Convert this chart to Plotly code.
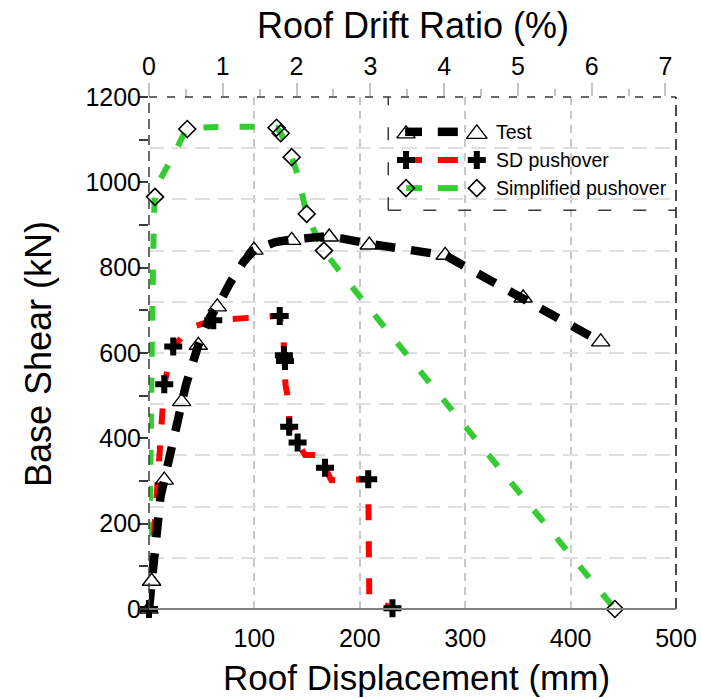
import plotly.graph_objects as go

# ---------------- data ----------------
STORY_H_MM = 7000.0  # roof height used for drift ratio (%) = disp / H * 100

# Test (black)
test_line_x = [0, 2.5, 7, 11, 14.5, 21, 27, 31, 35, 46.8, 58, 64.8, 77, 90, 99.6, 120, 135.4, 171, 209, 281, 355, 428.6]
test_line_y = [0, 65, 185, 265, 302, 375, 440, 486, 525, 618, 685, 708, 765, 815, 841, 860, 866, 874, 856, 829, 729, 626]
test_mark_x = [0, 2.5, 14.5, 31, 46.8, 64.8, 99.6, 135.4, 171, 209, 281, 355, 428.6]
test_mark_y = [0, 65, 302, 486, 618, 708, 841, 864, 872, 853, 829, 729, 626]

# SD pushover (red)
sd_line_x = [0, 14.5, 23, 40, 61, 124, 127.5, 128, 129, 129.5, 133, 133, 141, 148, 163, 167, 173, 208, 209, 231]
sd_line_y = [0, 527, 615, 660, 677, 687, 640, 595, 581, 525, 480, 427, 390, 361, 361, 331, 302, 304, 25, 2]
sd_mark_x = [0, 14.5, 23, 61, 124, 128, 129, 133, 141, 167, 208, 231]
sd_mark_y = [0, 527, 615, 677, 687, 595, 581, 427, 390, 331, 304, 2]

# Simplified pushover (green)
simp_line_x = [0, 5.7, 11, 18, 27, 36.3, 121, 125, 135.4, 142, 149.6, 166, 442]
simp_line_y = [0, 966, 1008, 1040, 1082, 1125, 1128, 1115, 1059, 1010, 926, 840, 0]
simp_mark_x = [5.7, 36.3, 121, 125, 135.4, 149.6, 166, 442]
simp_mark_y = [966, 1125, 1128, 1115, 1059, 926, 840, 0]

x_ticks = [100, 200, 300, 400, 500]
y_ticks = [0, 200, 400, 600, 800, 1000, 1200]
drift_ticks = [0, 1, 2, 3, 4, 5, 6, 7]
y_grid = [120, 240, 360, 480, 600, 720, 840, 960, 1080, 1200]

series_names = ["Test", "SD pushover", "Simplified pushover"]

# ---------------- styles ----------------
FONT = "Liberation Sans, Arial, sans-serif"
BLACK = "#000000"
RED = "#ff0000"
GREEN = "#33cc33"
DARK = "#3a3a3a"

fig = go.Figure()

# invisible helper traces so the overlay axes are drawn
fig.add_trace(go.Scatter(x=[v / STORY_H_MM * 100 for v in test_mark_x], y=test_mark_y,
                         xaxis="x2", yaxis="y", mode="markers", marker=dict(opacity=0),
                         hoverinfo="skip", showlegend=False))
fig.add_trace(go.Scatter(x=test_mark_x, y=test_mark_y, xaxis="x", yaxis="y2", mode="markers",
                         marker=dict(opacity=0), hoverinfo="skip", showlegend=False))

# lines
fig.add_trace(go.Scatter(x=simp_line_x, y=simp_line_y, mode="lines", line_shape="spline",
                         line=dict(color=GREEN, width=6, dash="15px,21px", smoothing=0.3),
                         showlegend=False, hoverinfo="skip"))
fig.add_trace(go.Scatter(x=sd_line_x, y=sd_line_y, mode="lines",
                         line=dict(color=RED, width=6, dash="16px,21px"),
                         showlegend=False, hoverinfo="skip"))
fig.add_trace(go.Scatter(x=test_line_x, y=test_line_y, mode="lines",
                         line=dict(color=BLACK, width=8.5, dash="20px,16px"),
                         showlegend=False, hoverinfo="skip"))

# markers
fig.add_trace(go.Scatter(x=simp_mark_x, y=simp_mark_y, mode="markers", cliponaxis=False,
                         marker=dict(symbol="diamond-open", size=13, color=BLACK, line=dict(width=1.6)),
                         name=series_names[2], showlegend=False))
fig.add_trace(go.Scatter(x=sd_mark_x, y=sd_mark_y, mode="markers", cliponaxis=False,
                         marker=dict(symbol="cross", size=15, color=BLACK, line=dict(width=0)),
                         name=series_names[1], showlegend=False))
fig.add_trace(go.Scatter(x=test_mark_x, y=test_mark_y, mode="markers", cliponaxis=False,
                         marker=dict(symbol="triangle-up-open", size=16, color=BLACK, line=dict(width=1.4)),
                         name=series_names[0], showlegend=False))

# ---------------- custom legend (in plot-area fractions, overlay axes x3/y3) ----------------
leg_rows = [0.932, 0.877, 0.822]
leg_styles = [
    (BLACK, 8.5, "triangle-up-open", 16, 1.4),
    (RED, 6, "cross", 15, 0),
    (GREEN, 6, "diamond-open", 13, 1.6),
]
mA, barA0, barA1, barB0, barB1, mB, txt = 0.4877, 0.478, 0.518, 0.548, 0.586, 0.622, 0.654
for ry, (col, w, sym, sz, lw), name in zip(leg_rows, leg_styles, series_names):
    if sym == "triangle-up-open":
        fig.add_trace(go.Scatter(x=[mA], y=[ry - 0.004], xaxis="x3", yaxis="y3", mode="markers",
                                 marker=dict(symbol=sym, size=sz, color=BLACK, line=dict(width=lw)),
                                 showlegend=False, hoverinfo="skip"))
        fig.add_trace(go.Scatter(x=[barA0 + 0.008, barA1], y=[ry, ry], xaxis="x3", yaxis="y3", mode="lines",
                                 line=dict(color=col, width=w), showlegend=False, hoverinfo="skip"))
    else:
        fig.add_trace(go.Scatter(x=[barA0 + 0.01, barA1], y=[ry, ry], xaxis="x3", yaxis="y3", mode="lines",
                                 line=dict(color=col, width=w), showlegend=False, hoverinfo="skip"))
        fig.add_trace(go.Scatter(x=[mA], y=[ry], xaxis="x3", yaxis="y3", mode="markers",
                                 marker=dict(symbol=sym, size=sz, color=BLACK, line=dict(width=lw)),
                                 showlegend=False, hoverinfo="skip"))
    fig.add_trace(go.Scatter(x=[barB0, barB1], y=[ry, ry], xaxis="x3", yaxis="y3", mode="lines",
                             line=dict(color=col, width=w), showlegend=False, hoverinfo="skip"))
    fig.add_trace(go.Scatter(x=[mB], y=[ry - (0.004 if sym == "triangle-up-open" else 0)], xaxis="x3", yaxis="y3",
                             mode="markers",
                             marker=dict(symbol=sym, size=sz + 2 if sym == "triangle-up-open" else sz, color=BLACK,
                                         line=dict(width=lw)),
                             showlegend=False, hoverinfo="skip"))
    fig.add_annotation(x=txt, y=ry, xref="paper", yref="paper", text=name, showarrow=False,
                       xanchor="left", yanchor="middle", font=dict(family=FONT, size=19.5, color=BLACK))

# ---------------- frame shapes ----------------
shapes = [
    dict(type="line", xref="paper", yref="paper", x0=0, x1=0, y0=0, y1=1,
         line=dict(color=DARK, width=1.5, dash="10px,6px")),
    dict(type="line", xref="paper", yref="paper", x0=0, x1=1, y0=1, y1=1,
         line=dict(color=DARK, width=1.5, dash="8px,10px")),
    dict(type="line", xref="paper", yref="paper", x0=1, x1=1, y0=0, y1=1,
         line=dict(color="#111111", width=1.5, dash="11px,6px")),
    dict(type="line", xref="paper", yref="paper", x0=0, x1=1, y0=0, y1=0,
         line=dict(color="#808080", width=2)),
    dict(type="line", xref="paper", yref="paper", x0=0.454, x1=0.454, y0=0.779, y1=1,
         line=dict(color=DARK, width=1.5, dash="13px,22px")),
    dict(type="line", xref="paper", yref="paper", x0=0.454, x1=1, y0=0.779, y1=0.779,
         line=dict(color=DARK, width=1.5, dash="13px,22px")),
]

# ---------------- titles as annotations ----------------
fig.add_annotation(x=0.501, y=1.1406, xref="paper", yref="paper", text="Roof Drift Ratio (%)",
                   showarrow=False, xanchor="center", yanchor="middle",
                   font=dict(family=FONT, size=36, color=BLACK))
fig.add_annotation(x=0.507, y=-0.133, xref="paper", yref="paper", text="Roof Displacement (mm)",
                   showarrow=False, xanchor="center", yanchor="middle",
                   font=dict(family=FONT, size=35, color=BLACK))
fig.add_annotation(x=-0.2106, y=0.498, xref="paper", yref="paper", text="Base Shear (kN)",
                   showarrow=False, xanchor="center", yanchor="middle", textangle=-90,
                   font=dict(family=FONT, size=36, color=BLACK))

tickfont = dict(family=FONT, size=25, color=BLACK)

fig.update_layout(
    width=702, height=699,
    margin=dict(l=149, r=26, t=97, b=90, pad=0, autoexpand=False),
    paper_bgcolor="white", plot_bgcolor="white",
    showlegend=False,
    shapes=shapes,
    xaxis=dict(range=[0, 500], tickvals=x_ticks, ticks="", showline=False, zeroline=False,
               showgrid=True, gridcolor="#c8c8c8", gridwidth=2, griddash="8px,6px",
               tickfont=tickfont, ticklabelstandoff=12, automargin=False),
    yaxis=dict(range=[0, 1200], tickvals=y_ticks, ticks="outside", ticklen=9, tickwidth=1.5,
               tickcolor=DARK, showline=False, zeroline=False, showgrid=False,
               minor=dict(dtick=100, ticks="outside", ticklen=9, tickwidth=1.5, tickcolor=DARK, showgrid=False),
               tickfont=tickfont, ticklabelstandoff=-7, automargin=False),
    xaxis2=dict(overlaying="x", side="top", anchor="y", range=[0, 500 / STORY_H_MM * 100],
                tickvals=drift_ticks, ticks="outside", ticklen=13, tickwidth=2, tickcolor="#c4c4c4",
                minor=dict(dtick=0.5, ticks="outside", ticklen=7, tickwidth=2, tickcolor="#c4c4c4"),
                showline=False, zeroline=False, showgrid=False, tickfont=tickfont, ticklabelstandoff=-2,
                automargin=False),
    yaxis2=dict(overlaying="y", anchor="x", range=[0, 1200], tickvals=y_grid, showticklabels=False,
                ticks="", showline=False, zeroline=False, showgrid=True, gridcolor="#e0e0e0",
                gridwidth=2, griddash="15px,8px", automargin=False),
    xaxis3=dict(overlaying="x", anchor="y3", range=[0, 1], visible=False, automargin=False),
    yaxis3=dict(overlaying="y", anchor="x3", range=[0, 1], visible=False, automargin=False),
)

fig.write_html("out.html")
